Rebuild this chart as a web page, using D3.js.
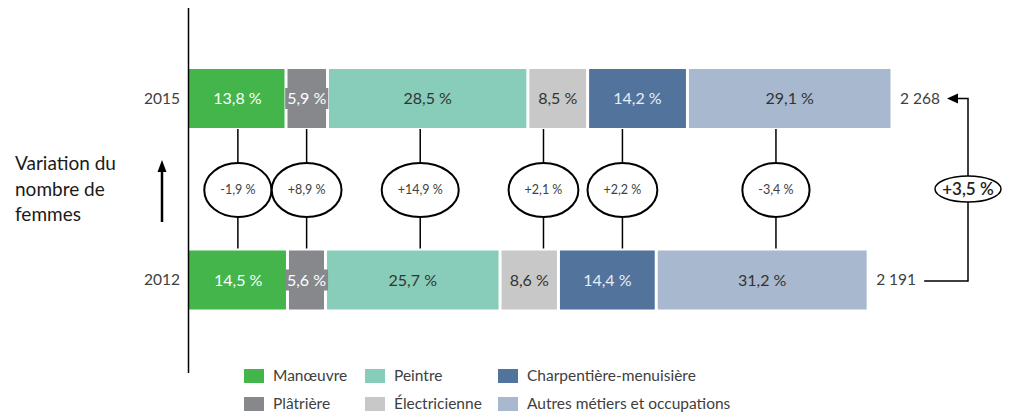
<!DOCTYPE html>
<html><head><meta charset="utf-8">
<script src="https://cdn.jsdelivr.net/npm/d3@7"></script>
<style>
html,body{margin:0;padding:0;background:#fff;}
svg{display:block;font-family:Lato,"Open Sans",sans-serif;}
</style></head>
<body>
<svg id="chart" width="1009" height="417"></svg>
<script>
const categories = ["Manœuvre","Plâtrière","Peintre","Électricienne","Charpentière-menuisière","Autres métiers et occupations"];
const colors = ["#43b54b","#87888c","#88cdb9","#c8c8c8","#51739c","#a8b8cf"];
const labelColors = ["#ffffff","#ffffff","#333333","#333333","#e8eef5","#333333"];
const years = ["2015","2012"];
const totals = [2268, 2191];
const shares2015 = [13.8, 5.9, 28.5, 8.5, 14.2, 29.1];
const shares2012 = [14.5, 5.6, 25.7, 8.6, 14.4, 31.2];
const variations = ["-1,9 %","+8,9 %","+14,9 %","+2,1 %","+2,2 %","-3,4 %"];
const totalVariation = "+3,5 %";
const totalLabels = ["2 268","2 191"];
const sideTitle = ["Variation du","nombre de","femmes"];

const svg = d3.select("#chart");
const fmt = v => d3.format(".1f")(v).replace(".", ",") + " %";

const x = d3.scaleLinear().domain([0, 2268]).range([189, 892]);
const y = d3.scalePoint().domain(years).range([98.5, 280]);
const barH = 59;
const shares = [shares2015, shares2012];

const rows = years.map((yr, i) => {
  let acc = 0;
  return shares[i].map((s, j) => {
    const v0 = acc * totals[i] / 100;
    acc += s;
    const v1 = acc * totals[i] / 100;
    return {year: yr, idx: j, share: s, x0: x(v0), x1: x(v1)};
  });
});

// connectors + ellipses
const mids = categories.map((c, j) => (rows[0][j].x0 + rows[0][j].x1 + rows[1][j].x0 + rows[1][j].x1) / 4);
const gv = svg.append("g");
gv.selectAll("line.conn").data(mids).join("line")
  .attr("x1", d => d).attr("x2", d => d)
  .attr("y1", y("2015") + barH / 2 + 1).attr("y2", y("2012") - barH / 2 - 2)
  .attr("stroke", "#000").attr("stroke-width", 1.5);
const vg = gv.selectAll("g.var").data(mids).join("g").attr("transform", d => `translate(${d},190)`);
vg.each(function(d, j) {
  const g = d3.select(this);
  const el = g.append("ellipse").attr("ry", 27).attr("fill", "#fff").attr("stroke", "#000").attr("stroke-width", 2);
  const t = g.append("text").attr("text-anchor", "middle").attr("dy", "0.35em")
    .attr("font-size", 12.5).attr("fill", "#404040").text(variations[j]);
  const w = t.node().getComputedTextLength();
  el.attr("rx", Math.max(31, w / 2 + 16));
});

// bars
const gb = svg.append("g");
rows.forEach((row, i) => {
  const yc = y(years[i]);
  const g = gb.append("g");
  g.selectAll("rect").data(row).join("rect")
    .attr("x", d => d.idx === 0 ? d.x0 : d.x0 + 1.5)
    .attr("width", d => d.idx === 0 ? d.x1 - d.x0 - 1.5 : d.x1 - d.x0 - 3)
    .attr("y", yc - barH / 2).attr("height", barH)
    .attr("fill", d => colors[d.idx]);
  row.forEach(d => {
    const cx = (d.x0 + d.x1) / 2;
    const t = g.append("text").attr("x", cx).attr("y", yc).attr("dy", "0.35em")
      .attr("text-anchor", "middle").attr("font-size", 16)
      .attr("fill", labelColors[d.idx]).text(fmt(d.share));
    const w = t.node().getComputedTextLength();
    if (w + 4 > d.x1 - d.x0 - 3) {
      g.insert("rect", function(){ return t.node(); })
        .attr("x", cx - w / 2 - 2).attr("width", w + 4)
        .attr("y", yc - 10.5).attr("height", 21).attr("fill", colors[d.idx]);
    }
  });
  svg.append("text").attr("x", 180).attr("y", yc).attr("dy", "0.35em")
    .attr("text-anchor", "end").attr("font-size", 15.5).attr("fill", "#404040").text(years[i]);
  svg.append("text").attr("x", x(totals[i]) + 8).attr("y", yc).attr("dy", "0.35em")
    .attr("font-size", 15.5).attr("fill", "#404040").text(totalLabels[i]);
});

// vertical axis line
svg.append("line").attr("x1", 188.5).attr("x2", 188.5).attr("y1", 8).attr("y2", 373)
  .attr("stroke", "#000").attr("stroke-width", 1.5);

// total connector
const cX = 968;
const y15 = y("2015"), y12 = y("2012");
svg.append("path")
  .attr("d", `M${x(2191) + 56},${y12 + 1}H${cX}V${y15}H${x(2268) + 66}`)
  .attr("fill", "none").attr("stroke", "#000").attr("stroke-width", 1.5);
svg.append("path")
  .attr("d", `M${x(2268) + 55},${y15}l11,-5v10z`).attr("fill", "#000");
const tg = svg.append("g").attr("transform", `translate(${cX},189)`);
tg.append("ellipse").attr("rx", 33).attr("ry", 13).attr("fill", "#fff").attr("stroke", "#000").attr("stroke-width", 1.5);
tg.append("text").attr("text-anchor", "middle").attr("dy", "0.35em").attr("font-size", 17)
  .attr("font-weight", 600).attr("fill", "#222").text(totalVariation);

// side title and arrow
svg.append("text").attr("font-size", 19).attr("fill", "#1a1a1a")
  .selectAll("tspan").data(sideTitle).join("tspan")
  .attr("x", 15).attr("y", (d, i) => 170 + i * 25.5).text(d => d);
svg.append("line").attr("x1", 162).attr("x2", 162).attr("y1", 222).attr("y2", 170)
  .attr("stroke", "#000").attr("stroke-width", 2.5);
svg.append("path").attr("d", "M162,160l-4.5,12h9z").attr("fill", "#000");

// legend
const legX = [244, 365, 498], legY = [369, 397];
const lg = svg.append("g");
categories.forEach((c, j) => {
  const col = Math.floor(j / 2), row = j % 2;
  lg.append("rect").attr("x", legX[col]).attr("y", legY[row]).attr("width", 20).attr("height", 14).attr("fill", colors[j]);
  lg.append("text").attr("x", legX[col] + 29).attr("y", legY[row] + 7).attr("dy", "0.35em")
    .attr("font-size", 15.5).attr("fill", "#404040").text(c);
});
</script>
</body></html>
